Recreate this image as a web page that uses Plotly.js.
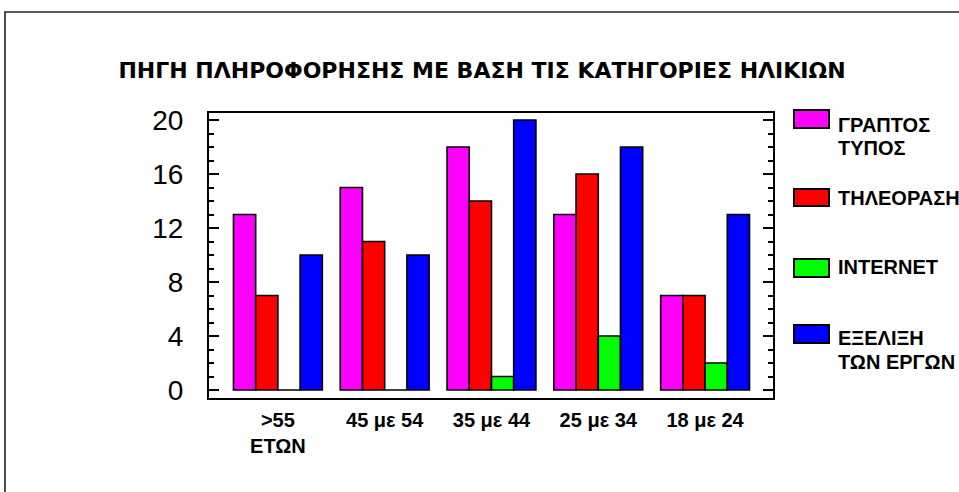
<!DOCTYPE html>
<html>
<head>
<meta charset="utf-8">
<script src="https://cdn.plot.ly/plotly-3.0.1.min.js"></script>
<style>html,body{margin:0;padding:0;background:#fff;}#chart{width:959px;height:492px;}</style>
</head>
<body>
<div id="chart"></div>
<script>
const categories = [">55<br>ΕΤΩΝ", "45 με 54", "35 με 44", "25 με 34", "18 με 24"];
const seriesNames = ["ΓΡΑΠΤΟΣ<br>ΤΥΠΟΣ", "ΤΗΛΕΟΡΑΣΗ", "INTERNET", "ΕΞΕΛΙΞΗ<br>ΤΩΝ ΕΡΓΩΝ"];
const seriesColors = ["#FF00FF", "#FF0000", "#00FF00", "#0000FF"];
const graptosTypos = [13, 15, 18, 13, 7];
const tileorasi = [7, 11, 14, 16, 7];
const internet = [0, 0, 1, 4, 2];
const exelixiErgon = [10, 10, 20, 18, 13];
const yTicks = [0, 4, 8, 12, 16, 20];
const title = "ΠΗΓΗ ΠΛΗΡΟΦΟΡΗΣΗΣ ΜΕ ΒΑΣΗ ΤΙΣ ΚΑΤΗΓΟΡΙΕΣ ΗΛΙΚΙΩΝ";

const seriesValues = [graptosTypos, tileorasi, internet, exelixiErgon];
const idx = categories.map((c, i) => i);

const W = 959, H = 492;
const L = 209, R = 773, T = 113, B = 398;
const px = x => (x - L) / (R - L);
const py = y => (B - y) / (B - T);

const traces = seriesValues.map((vals, s) => ({
  type: 'bar',
  x: idx,
  y: vals,
  name: seriesNames[s],
  showlegend: false,
  marker: {color: seriesColors[s], line: {color: '#000', width: 1.6}},
  hoverinfo: 'y'
}));

// legend (drawn as shapes + annotations)
const legendSwatch = [[110, 128], [189, 206], [259, 277], [325, 343]];
const legendLines = [[125, 148], [198], [267], [338, 362]];
const shapes = [];
const annotations = [];
seriesNames.forEach((n, s) => {
  shapes.push({type: 'rect', xref: 'paper', yref: 'paper',
    x0: px(794), x1: px(829), y0: py(legendSwatch[s][1]), y1: py(legendSwatch[s][0]),
    fillcolor: seriesColors[s], line: {color: '#000', width: 2}});
  n.split('<br>').forEach((line, k) => {
    annotations.push({xref: 'paper', yref: 'paper', x: px(836), y: py(legendLines[s][k]),
      xanchor: 'left', yanchor: 'middle', showarrow: false, text: '<b>' + line + '</b>',
      font: {family: 'Liberation Sans, Arial', size: 20, color: '#000'}});
  });
});
// outer frame
shapes.push({type: 'rect', xref: 'paper', yref: 'paper',
  x0: px(5), x1: px(1000), y0: py(540), y1: py(12),
  line: {color: '#222', width: 1.6}, fillcolor: 'rgba(0,0,0,0)', layer: 'below'});

const layout = {
  width: W, height: H,
  margin: {l: L, r: W - R, t: T, b: H - B, pad: 0},
  paper_bgcolor: '#fff', plot_bgcolor: '#fff',
  font: {family: 'Liberation Sans, Arial', color: '#000'},
  title: {text: '<b>' + title + '</b>', xref: 'container', yref: 'container', x: 482 / W, y: 1 - 70 / H,
    xanchor: 'center', yanchor: 'middle',
    font: {family: 'DejaVu Sans', size: 22, color: '#000'}},
  barmode: 'group', bargap: 0.168, bargroupgap: 0,
  showlegend: false,
  xaxis: {
    range: [-0.645, 4.636], tickmode: 'array', tickvals: idx, ticktext: categories,
    ticks: '', showline: true, linecolor: '#000', linewidth: 2, mirror: true,
    showgrid: false, zeroline: false, fixedrange: true,
    tickfont: {family: 'Liberation Sans, Arial', size: 20, weight: 'bold', color: '#000'},
    ticklabelstandoff: 3
  },
  yaxis: {
    range: [-0.59, 20.52], tickmode: 'array', tickvals: yTicks,
    ticks: 'inside', ticklen: 10, tickwidth: 2, tickcolor: '#000',
    minor: {dtick: 1, ticks: 'inside', ticklen: 5, tickwidth: 2, tickcolor: '#000', showgrid: false},
    showline: true, linecolor: '#000', linewidth: 2, mirror: 'ticks',
    showgrid: false, zeroline: false, fixedrange: true,
    tickfont: {family: 'Liberation Sans, Arial', size: 28, color: '#000'},
    ticklabelstandoff: 18
  },
  shapes: shapes,
  annotations: annotations
};

Plotly.newPlot('chart', traces, layout, {displayModeBar: false, staticPlot: true});
</script>
</body>
</html>
